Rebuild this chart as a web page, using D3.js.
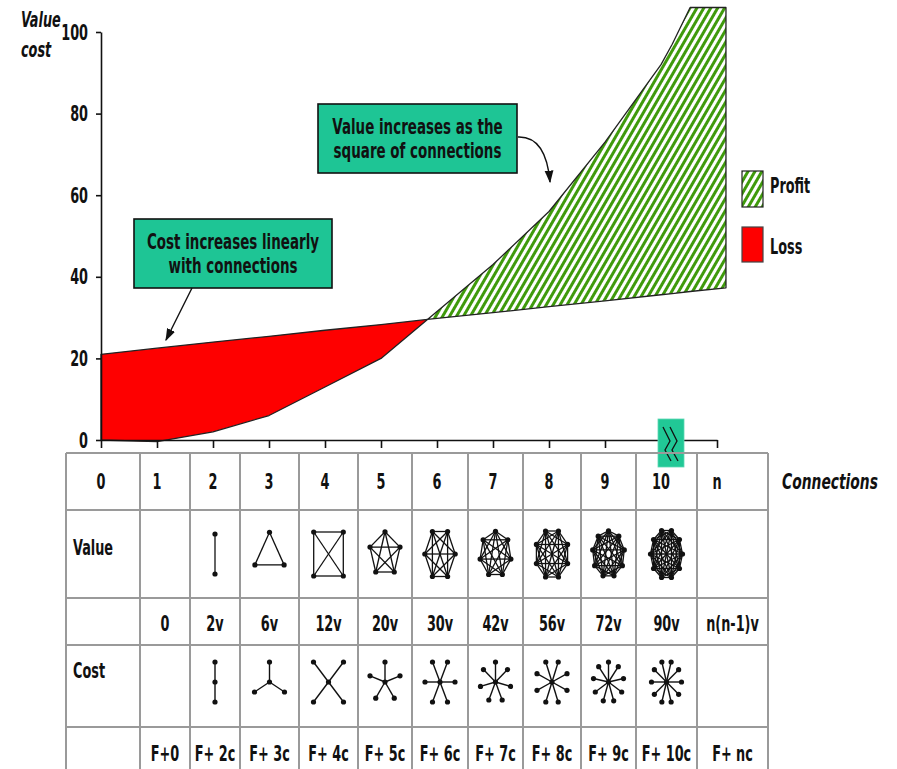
<!DOCTYPE html>
<html>
<head>
<meta charset="utf-8">
<script src="https://cdn.jsdelivr.net/npm/d3@7"></script>
<style>
  body { margin: 0; background: #fff; }
  svg text { font-family: "Liberation Sans Narrow", "DejaVu Sans Condensed", "Arial Narrow", sans-serif; font-weight: bold; fill: #111; }
</style>
</head>
<body>
<svg id="chart" width="897" height="769"></svg>
<script>
// connections (x) and the two curves
var conn = [0, 1, 2, 3, 4, 5, 6, 7, 8, 9, 10, 10.2, 10.52, 11.16];
var valueCurve = [0, -0.4, 2, 6, 13, 20, 31.5, 43, 56, 73, 92, 97, 106, 106];
var costLine = [21, 22.5, 24, 25.4, 26.9, 28.3, 29.8, 31.2, 32.7, 34.1, 35.6, 35.9, 36.4, 37.3];

var yTicks = [0, 20, 40, 60, 80, 100];
var connLabels = ["0", "1", "2", "3", "4", "5", "6", "7", "8", "9", "10", "n"];
var valueLabels = ["", "0", "2v", "6v", "12v", "20v", "30v", "42v", "56v", "72v", "90v", "n(n-1)v"];
var costLabels = ["", "F+0", "F+ 2c", "F+ 3c", "F+ 4c", "F+ 5c", "F+ 6c", "F+ 7c", "F+ 8c", "F+ 9c", "F+ 10c", "F+ nc"];
var graphSizes = [2, 3, 4, 5, 6, 7, 8, 9, 10];

var svg = d3.select("#chart");
var x = d3.scaleLinear().domain([0, 11]).range([101, 717]);
var y = d3.scaleLinear().domain([0, 100]).range([440, 32]);

var pts = conn.map(function (c, i) { return { x: c, v: valueCurve[i], c: costLine[i] }; });

// where value overtakes cost
var cross = null;
for (var i = 1; i < pts.length && !cross; i++) {
    var a = pts[i - 1], b = pts[i];
    var da = a.v - a.c, db = b.v - b.c;
    if (da < 0 && db >= 0) {
        var t = -da / (db - da);
        cross = { x: a.x + t * (b.x - a.x), v: a.v + t * (b.v - a.v), c: a.c + t * (b.c - a.c) };
    }
}
var lossPts = pts.filter(function (d) { return d.x < cross.x; }).concat([cross]);
var profitPts = [cross].concat(pts.filter(function (d) { return d.x > cross.x; }));

var defs = svg.append("defs");
var hatch = defs.append("pattern").attr("id", "hatch")
    .attr("patternUnits", "userSpaceOnUse").attr("width", 6).attr("height", 6)
    .attr("patternTransform", "rotate(30)");
hatch.append("rect").attr("width", 6).attr("height", 6).attr("fill", "#fff");
hatch.append("rect").attr("width", 3).attr("height", 6).attr("fill", "#3f9a0c");

defs.append("marker").attr("id", "arrow").attr("viewBox", "0 0 10 10")
    .attr("refX", 9).attr("refY", 5).attr("markerWidth", 9).attr("markerHeight", 9)
    .attr("orient", "auto-start-reverse")
    .append("path").attr("d", "M0,1.5 L10,5 L0,8.5 Z").attr("fill", "#111");

function label(sel, px, py, s, o) {
    o = o || {};
    return sel.append("text")
        .attr("transform", "translate(" + px + "," + py + ") scale(" + (o.sx || 0.68) + ",1)")
        .attr("text-anchor", o.anchor || "middle")
        .style("font-size", (o.size || 20) + "px")
        .style("font-style", o.italic ? "italic" : "normal")
        .text(s);
}

// areas
var area = d3.area().x(function (d) { return x(d.x); });
svg.append("path").datum(lossPts)
    .attr("d", area.y0(function (d) { return y(d.v); }).y1(function (d) { return y(d.c); }))
    .attr("fill", "#fe0000").attr("stroke", "#222").attr("stroke-width", 1.3).attr("stroke-linejoin", "round");
svg.append("path").datum(profitPts)
    .attr("d", area.y0(function (d) { return y(d.c); }).y1(function (d) { return y(d.v); }))
    .attr("fill", "url(#hatch)").attr("stroke", "#222").attr("stroke-width", 1.3).attr("stroke-linejoin", "round");

// axes
var xAxis = svg.append("g").attr("transform", "translate(0,440)")
    .call(d3.axisBottom(x).tickValues(d3.range(0, 12)).tickSize(8).tickSizeOuter(0).tickFormat(""));
xAxis.selectAll("path, line").attr("stroke", "#111").attr("stroke-width", 1.6);

var yAxis = svg.append("g").attr("transform", "translate(101,0)")
    .call(d3.axisLeft(y).tickValues(yTicks).tickSize(5).tickSizeOuter(0));
yAxis.selectAll("path, line").attr("stroke", "#111").attr("stroke-width", 1.6);
yAxis.selectAll("text")
    .attr("x", null).attr("dy", null)
    .attr("transform", "translate(-13,7) scale(0.68,1)")
    .style("font-size", "21px").style("font-family", null).attr("fill", null);
yAxis.attr("font-family", null).attr("font-size", null);

label(svg, 21, 27, "Value", { anchor: "start", italic: true, size: 21 });
label(svg, 21, 57, "cost", { anchor: "start", italic: true, size: 21 });

// axis break
svg.append("rect").attr("x", 658).attr("y", 419).attr("width", 26).attr("height", 48)
    .attr("fill", "#21c896").attr("stroke", "#5fd8b4").attr("stroke-width", 0.8);
[663, 670].forEach(function (bx) {
    svg.append("path")
        .attr("d", "M" + bx + ",427 L" + (bx + 7) + ",441 L" + (bx + 2) + ",450 L" + (bx + 8) + ",461")
        .attr("fill", "none").attr("stroke", "#111").attr("stroke-width", 1.3);
});

// callouts
function callout(bx, by, bw, bh, lines) {
    svg.append("rect").attr("x", bx).attr("y", by).attr("width", bw).attr("height", bh)
        .attr("fill", "#1ec595").attr("stroke", "#111").attr("stroke-width", 1.6);
    lines.forEach(function (s, k) {
        label(svg, bx + bw / 2, by + 30 + k * 24, s, { size: 22, sx: 0.68 });
    });
}
callout(134, 219, 198, 69, ["Cost increases linearly", "with connections"]);
callout(318, 104, 199, 69, ["Value increases as the", "square of connections"]);

svg.append("path").attr("d", "M192,288 L166,340")
    .attr("stroke", "#111").attr("stroke-width", 1.4).attr("fill", "none").attr("marker-end", "url(#arrow)");
svg.append("path").attr("d", "M518,137 Q546,136 550,182")
    .attr("stroke", "#111").attr("stroke-width", 1.4).attr("fill", "none").attr("marker-end", "url(#arrow)");

// legend
svg.append("rect").attr("x", 742).attr("y", 171).attr("width", 21).attr("height", 36)
    .attr("fill", "url(#hatch)").attr("stroke", "#222").attr("stroke-width", 1.2);
svg.append("rect").attr("x", 742).attr("y", 227).attr("width", 21).attr("height", 35)
    .attr("fill", "#fe0000").attr("stroke", "#444").attr("stroke-width", 1.2);
label(svg, 770, 193, "Profit", { anchor: "start", size: 21 });
label(svg, 770, 254, "Loss", { anchor: "start", size: 21 });

// table
var colEdges = [66, 140, 190, 240, 299, 358, 412, 468, 523, 581, 636, 697, 768];
var rowEdges = [453, 510, 598, 645, 727, 790];
var grid = svg.append("g").attr("stroke", "#9a9a9a").attr("stroke-width", 2);
colEdges.forEach(function (cx) {
    grid.append("line").attr("x1", cx).attr("x2", cx).attr("y1", rowEdges[0]).attr("y2", 790);
});
rowEdges.slice(0, -1).forEach(function (ry) {
    grid.append("line").attr("x1", colEdges[0]).attr("x2", colEdges[colEdges.length - 1]).attr("y1", ry).attr("y2", ry);
});
function cellMid(k) { return (colEdges[k] + colEdges[k + 1]) / 2; }

connLabels.forEach(function (s, k) { label(svg, x(k), 489, s, { size: 21 }); });
label(svg, 782, 489, "Connections", { anchor: "start", italic: true, size: 22, sx: 0.7 });

label(svg, 73, 555, "Value", { anchor: "start", size: 21 });
label(svg, 73, 678, "Cost", { anchor: "start", size: 21 });
valueLabels.forEach(function (s, k) { if (s) label(svg, cellMid(k), 631, s, { size: 21 }); });
costLabels.forEach(function (s, k) { if (s) label(svg, cellMid(k), 761, s, { size: 21 }); });

// node layouts: complete graphs (value) and stars (cost)
function ring(n, rx, ry) {
    var start = (n % 2 === 0 && n > 2) ? -90 + 180 / n : -90;
    return d3.range(n).map(function (k) {
        var ang = (start + k * 360 / n) * Math.PI / 180;
        return [Math.cos(ang), Math.sin(ang)];
    }).map(function (p, k, all) {
        var mx = d3.max(all, function (q) { return Math.abs(q[0]); }) || 1;
        var my = d3.max(all, function (q) { return Math.abs(q[1]); }) || 1;
        return [p[0] / mx * rx, p[1] / my * ry];
    });
}

graphSizes.forEach(function (n) {
    var g = svg.append("g").attr("transform", "translate(" + cellMid(n) + ",554)");
    var nodes = ring(n, n === 2 ? 0 : 14 + n * 0.2, n === 2 ? 20 : 21 + n * 0.25);
    var edges = [];
    nodes.forEach(function (p, a) { nodes.forEach(function (q, b) { if (b > a) edges.push([p, q]); }); });
    g.selectAll("line").data(edges).join("line")
        .attr("x1", function (e) { return e[0][0]; }).attr("y1", function (e) { return e[0][1]; })
        .attr("x2", function (e) { return e[1][0]; }).attr("y2", function (e) { return e[1][1]; })
        .attr("stroke", "#111").attr("stroke-width", 1.3);
    g.selectAll("circle").data(nodes).join("circle")
        .attr("cx", function (p) { return p[0]; }).attr("cy", function (p) { return p[1]; })
        .attr("r", 2.6).attr("fill", "#111");

    var s = svg.append("g").attr("transform", "translate(" + cellMid(n) + ",682)");
    var leaves = ring(n, n === 2 ? 0 : 15, 20);
    s.selectAll("line").data(leaves).join("line")
        .attr("x1", 0).attr("y1", 0)
        .attr("x2", function (p) { return p[0]; }).attr("y2", function (p) { return p[1]; })
        .attr("stroke", "#111").attr("stroke-width", 1.4);
    s.selectAll("circle").data(leaves.concat([[0, 0]])).join("circle")
        .attr("cx", function (p) { return p[0]; }).attr("cy", function (p) { return p[1]; })
        .attr("r", 2.6).attr("fill", "#111");
});
</script>
</body>
</html>
